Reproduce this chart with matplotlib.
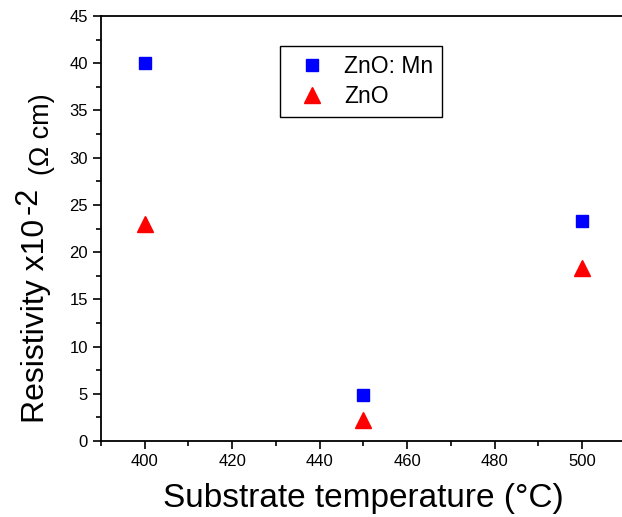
import matplotlib.pyplot as plt
from matplotlib.ticker import MultipleLocator

plt.rcParams['font.family'] = ['Liberation Sans', 'DejaVu Sans']

# ===================== data =====================
temp = [400, 450, 500]
res_mn = [40.0, 4.9, 23.3]
res_zno = [23.0, 2.2, 18.3]

W, H = 622, 517
fig = plt.figure(figsize=(W / 100, H / 100), dpi=100)
ax = fig.add_axes([101 / W, 1 - 441 / H, 524.7 / W, 425 / H])

ax.plot(temp, res_mn, 's', color='blue', markersize=8.5, linestyle='none', label='ZnO: Mn')
ax.plot(temp, res_zno, '^', color='red', markersize=11, linestyle='none', label='ZnO')

ax.set_xlim(390, 510)
ax.set_ylim(0, 45)
ax.xaxis.set_major_locator(MultipleLocator(20))
ax.xaxis.set_minor_locator(MultipleLocator(10))
ax.yaxis.set_major_locator(MultipleLocator(5))
ax.yaxis.set_minor_locator(MultipleLocator(2.5))
ax.tick_params(which='major', direction='out', length=6, width=1.2, labelsize=12)
ax.tick_params(which='minor', direction='out', length=3.5, width=1.2)
ax.tick_params(top=False, right=False, which='both')
for s in ax.spines.values():
    s.set_linewidth(1.3)

ax.set_xlabel('Substrate temperature (°C)', fontsize=24, labelpad=10)

# y label built from pieces (superscript and units are smaller)
fig.text(36 / W, 1 - 423 / H, 'Resistivity x10', rotation=90,
         ha='center', va='bottom', fontsize=23)
fig.text(29 / W, 1 - 214 / H, '-2', rotation=90,
         ha='center', va='bottom', fontsize=22)
fig.text(42 / W, 1 - 175 / H, '(Ω cm)', rotation=90,
         ha='center', va='bottom', fontsize=19.5)

leg = ax.legend(loc='upper left', bbox_to_anchor=(0.341, 0.929), borderaxespad=0,
                fontsize=16.5, fancybox=False, edgecolor='black', framealpha=1,
                handletextpad=0.4, borderpad=0.4, labelspacing=0.3)
leg.get_frame().set_linewidth(1.0)

fig.savefig('out.png', dpi=100)
